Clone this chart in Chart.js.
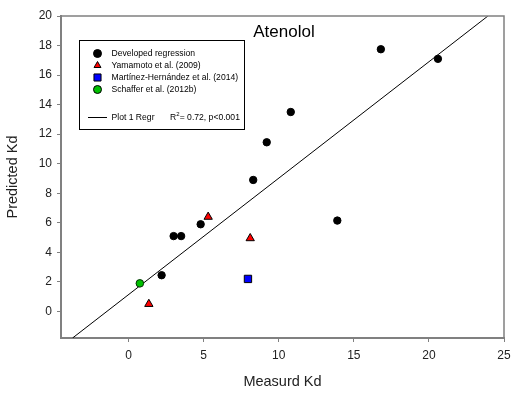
<!DOCTYPE html>
<html lang="en">
<head>
  <meta charset="UTF-8" />
  <title>Atenolol</title>
  <script src="https://cdn.jsdelivr.net/npm/chart.js"></script>
  <style>
    html, body { margin: 0; padding: 0; background: #fff; }
    #wrap { width: 514px; height: 393px; }
  </style>
</head>
<body>
  <div id="wrap"><canvas id="kdChart" width="514" height="393"></canvas></div>

  <script>
    const chartTitle = 'Atenolol';
    const xTitle = 'Measurd Kd';
    const yTitle = 'Predicted Kd';
    const xTicks = [0, 5, 10, 15, 20, 25];
    const yTicks = [0, 2, 4, 6, 8, 10, 12, 14, 16, 18, 20];

    // Developed regression
    const devX = [2.2, 3.0, 3.5, 4.8, 8.3, 9.2, 10.8, 13.9, 16.8, 20.6];
    const devY = [2.45, 5.1, 5.1, 5.9, 8.9, 11.45, 13.5, 6.15, 17.75, 17.1];
    // Yamamoto et al. (2009)
    const yamX = [1.35, 5.3, 8.1];
    const yamY = [0.5, 6.4, 4.95];
    // Martinez-Hernandez et al. (2014)
    const marX = [7.95];
    const marY = [2.2];
    // Schaffer et al. (2012b)
    const schX = [0.75];
    const schY = [1.9];
    // regression line ends
    const regX = [-3.73, 23.93];
    const regY = [-1.8, 20];

    const seriesNames = ['Developed regression', 'Yamamoto et al. (2009)',
      'Martínez-Hernández et al. (2014)', 'Schaffer et al. (2012b)'];
    const regName = 'Plot 1 Regr';
    const regStats = '= 0.72, p<0.001';

    const FONT = "'Liberation Sans', Arial, Helvetica, sans-serif";

    function pts(xs, ys) {
      return xs.map((x, i) => ({ x: x, y: ys[i] }));
    }

    function marker(ctx, style, x, y, r, fill) {
      ctx.save();
      ctx.fillStyle = fill;
      ctx.strokeStyle = '#000';
      ctx.lineWidth = 1;
      ctx.beginPath();
      if (style === 'triangle') {
        ctx.moveTo(x, y - r);
        ctx.lineTo(x + r * 0.866, y + r / 2);
        ctx.lineTo(x - r * 0.866, y + r / 2);
        ctx.closePath();
      } else if (style === 'rect') {
        const s = r * Math.SQRT1_2;
        ctx.rect(x - s, y - s, 2 * s, 2 * s);
      } else {
        ctx.arc(x, y, r, 0, Math.PI * 2);
      }
      ctx.fill();
      ctx.stroke();
      ctx.restore();
    }

    const extras = {
      id: 'extras',
      afterDatasetsDraw(chart) {
        const ctx = chart.ctx;
        const a = chart.chartArea;
        ctx.save();
        // top and right frame
        ctx.strokeStyle = '#808080';
        ctx.lineWidth = 1.5;
        ctx.beginPath();
        ctx.moveTo(a.left, a.top);
        ctx.lineTo(a.right, a.top);
        ctx.lineTo(a.right, a.bottom);
        ctx.stroke();

        // title inside the plot
        ctx.fillStyle = '#000';
        ctx.font = '17px ' + FONT;
        ctx.textAlign = 'center';
        ctx.textBaseline = 'alphabetic';
        ctx.fillText(chartTitle, 284, 37);

        // legend box
        ctx.lineWidth = 1;
        ctx.strokeStyle = '#000';
        ctx.fillStyle = '#fff';
        ctx.fillRect(79.5, 40.5, 165, 89);
        ctx.strokeRect(79.5, 40.5, 165, 89);

        ctx.font = '8.6px ' + FONT;
        ctx.textAlign = 'left';
        ctx.textBaseline = 'middle';
        const rows = [53.5, 65.5, 77.5, 89.5];
        for (let i = 0; i < 4; i++) {
          const ds = chart.data.datasets[i];
          const r = ds.pointStyle === 'rect' ? 5 : 4;
          marker(ctx, ds.pointStyle, 97.5, rows[i], r, ds.backgroundColor);
          ctx.fillStyle = '#000';
          ctx.fillText(seriesNames[i], 111.5, rows[i]);
        }
        ctx.strokeStyle = '#000';
        ctx.beginPath();
        ctx.moveTo(88, 117.5);
        ctx.lineTo(107, 117.5);
        ctx.stroke();
        ctx.fillText(regName, 111.5, 117.5);
        ctx.fillText('R', 170, 117.5);
        const rw = ctx.measureText('R').width;
        ctx.font = '6px ' + FONT;
        ctx.fillText('2', 170 + rw, 114);
        ctx.font = '8.6px ' + FONT;
        ctx.fillText(regStats, 170 + rw + 3.5, 117.5);
        ctx.restore();
      }
    };

    const ctx = document.getElementById('kdChart').getContext('2d');
    new Chart(ctx, {
      type: 'scatter',
      data: {
        datasets: [
          { label: seriesNames[0], data: pts(devX, devY), pointStyle: 'circle', pointRadius: 3.7,
            backgroundColor: '#000', borderColor: '#000', borderWidth: 1 },
          { label: seriesNames[1], data: pts(yamX, yamY), pointStyle: 'triangle', pointRadius: 4.8,
            backgroundColor: '#ff0000', borderColor: '#000', borderWidth: 1 },
          { label: seriesNames[2], data: pts(marX, marY), pointStyle: 'rect', pointRadius: 5.2,
            backgroundColor: '#0000ff', borderColor: '#000', borderWidth: 1 },
          { label: seriesNames[3], data: pts(schX, schY), pointStyle: 'circle', pointRadius: 3.8,
            backgroundColor: '#00c000', borderColor: '#003000', borderWidth: 1 },
          { label: regName, type: 'line', data: pts(regX, regY), showLine: true,
            borderColor: '#000', borderWidth: 1, pointRadius: 0, fill: false }
        ]
      },
      options: {
        responsive: false,
        animation: false,
        events: [],
        layout: { padding: { left: 0, top: 16, right: 10, bottom: 0 } },
        plugins: { legend: { display: false }, tooltip: { enabled: false } },
        scales: {
          x: {
            type: 'linear', min: -4.5, max: 25,
            afterBuildTicks: axis => { axis.ticks = xTicks.map(v => ({ value: v })); },
            afterFit: axis => { axis.height = 55; axis.paddingLeft = 0; axis.paddingRight = 0; },
            border: { color: '#808080', width: 2 },
            grid: { drawOnChartArea: false, color: '#808080', tickLength: 4 },
            ticks: { color: '#222', font: { family: FONT, size: 12 }, padding: 6, maxRotation: 0 },
            title: { display: true, text: xTitle, color: '#222', font: { family: FONT, size: 14.5 },
              padding: { top: 0, bottom: 2 } }
          },
          y: {
            type: 'linear', min: -1.8, max: 20,
            afterBuildTicks: axis => { axis.ticks = yTicks.map(v => ({ value: v })); },
            afterFit: axis => { axis.width = 61; axis.paddingTop = 0; axis.paddingBottom = 0; },
            border: { color: '#808080', width: 2 },
            grid: { drawOnChartArea: false, color: '#808080', tickLength: 4 },
            ticks: { color: '#222', font: { family: FONT, size: 12 }, padding: 5 },
            title: { display: true, text: yTitle, color: '#222', font: { family: FONT, size: 14.5 },
              padding: { top: 4, bottom: 0 } }
          }
        }
      },
      plugins: [extras]
    });
  </script>
</body>
</html>
